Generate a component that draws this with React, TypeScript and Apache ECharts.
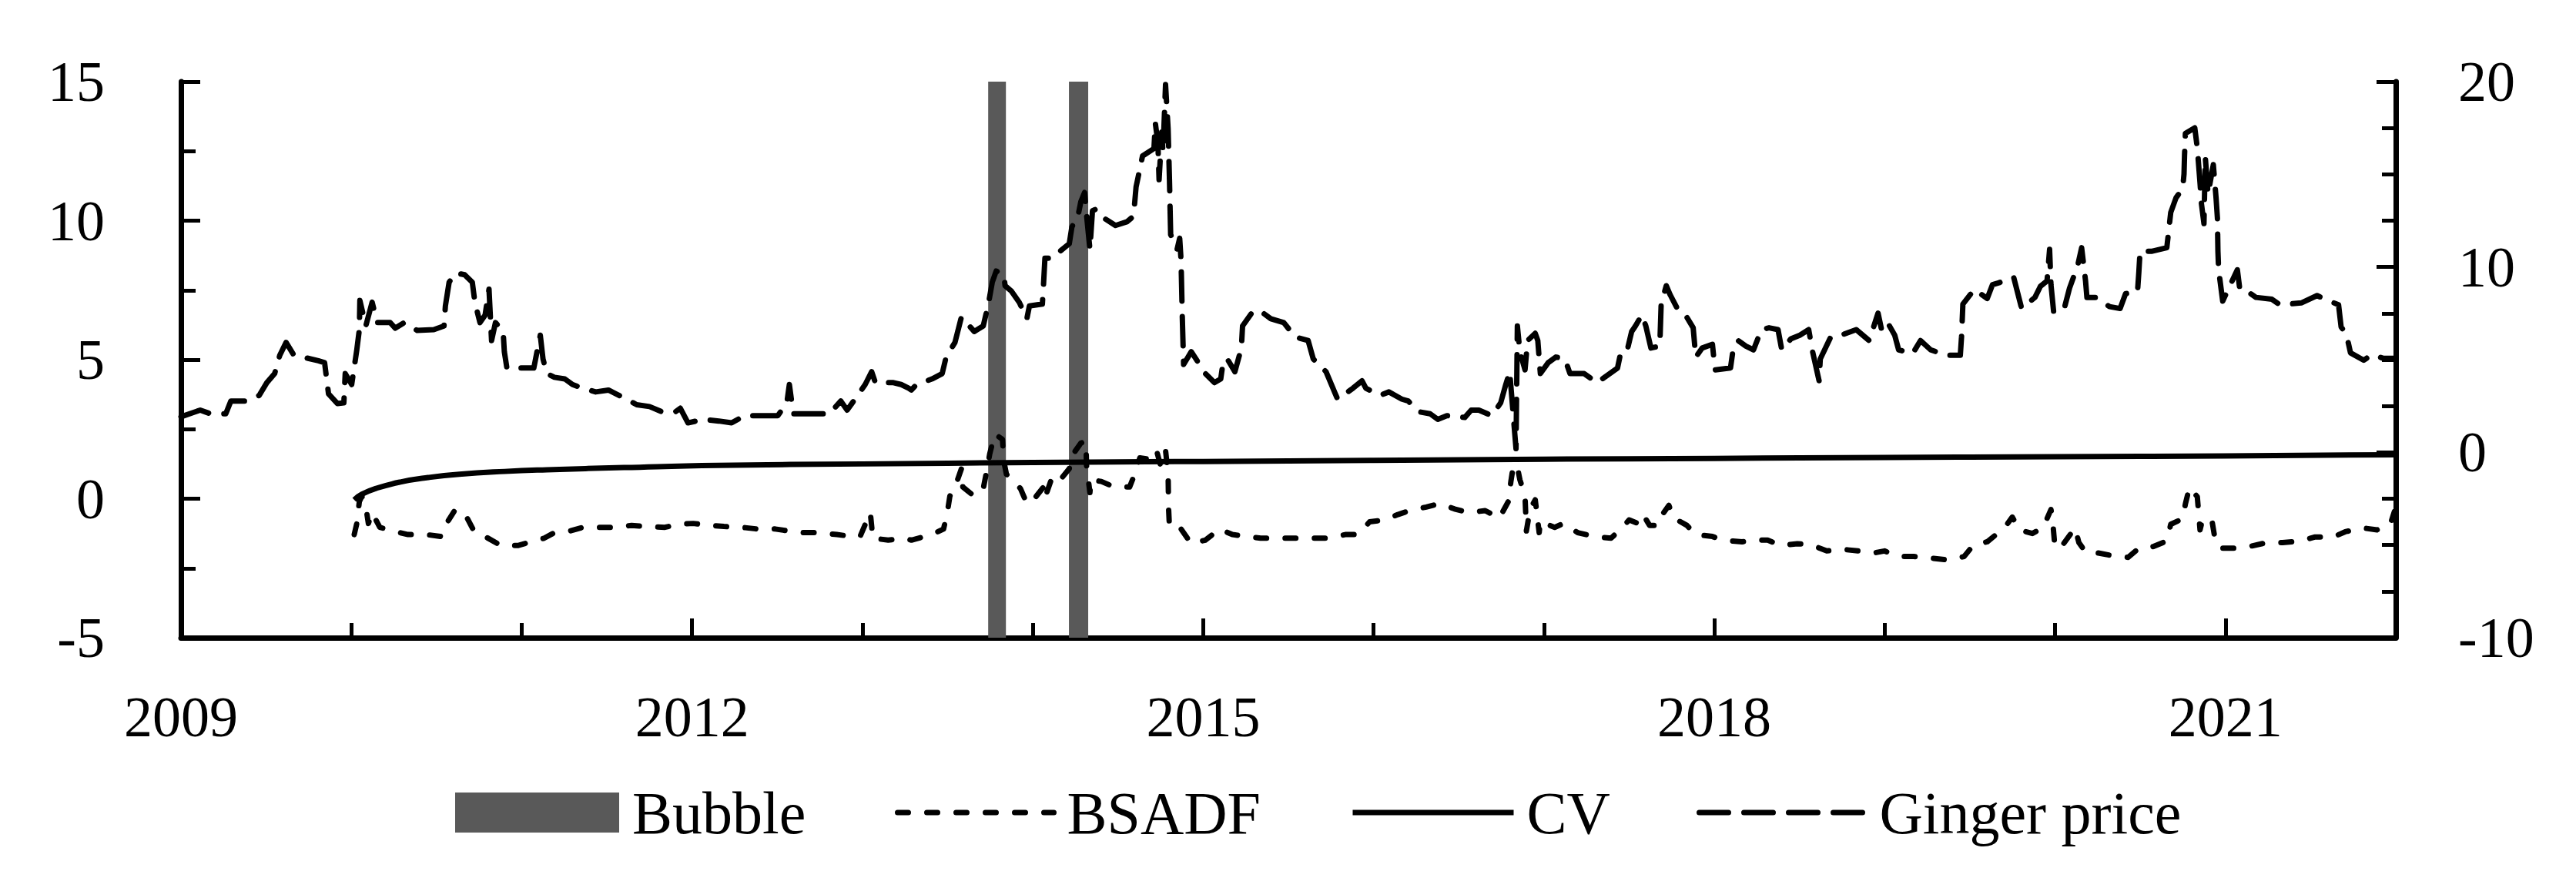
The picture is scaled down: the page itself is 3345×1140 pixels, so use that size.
import React, { useEffect, useRef } from 'react';
import * as echarts from 'echarts';

// Ginger price (right axis)
const gingerYears = [
  2009.0, 2009.113, 2009.173, 2009.263, 2009.293, 2009.384, 2009.459, 2009.504, 2009.55, 2009.58,
  2009.617, 2009.663, 2009.715, 2009.806, 2009.843, 2009.866, 2009.919, 2009.956, 2009.964, 2010.002,
  2010.032, 2010.047, 2010.05, 2010.085, 2010.122, 2010.152, 2010.228, 2010.258, 2010.311, 2010.386,
  2010.484, 2010.544, 2010.552, 2010.574, 2010.612, 2010.665, 2010.71, 2010.725, 2010.755, 2010.785,
  2010.808, 2010.823, 2010.846, 2010.891, 2010.898, 2010.913, 2010.951, 2011.071, 2011.109, 2011.125,
  2011.147, 2011.192, 2011.253, 2011.298, 2011.358, 2011.434, 2011.509, 2011.614, 2011.675, 2011.75,
  2011.825, 2011.901, 2011.931, 2011.976, 2012.066, 2012.157, 2012.232, 2012.308, 2012.503, 2012.556,
  2012.571, 2012.594, 2012.805, 2012.873, 2012.91, 2012.956, 2013.016, 2013.054, 2013.076, 2013.182,
  2013.227, 2013.272, 2013.287, 2013.317, 2013.408, 2013.468, 2013.491, 2013.543, 2013.581, 2013.656,
  2013.709, 2013.739, 2013.762, 2013.785, 2013.83, 2013.837, 2013.875, 2013.92, 2013.965, 2013.98,
  2014.056, 2014.063, 2014.071, 2014.116, 2014.161, 2014.214, 2014.229, 2014.267, 2014.282, 2014.304,
  2014.312, 2014.335, 2014.35, 2014.372, 2014.417, 2014.485, 2014.553, 2014.591, 2014.606, 2014.644,
  2014.711, 2014.719, 2014.734, 2014.741, 2014.757, 2014.764, 2014.779, 2014.794, 2014.802, 2014.809,
  2014.847, 2014.862, 2014.87, 2014.877, 2014.885, 2014.93, 2015.013, 2015.066, 2015.103, 2015.118,
  2015.141, 2015.186, 2015.224, 2015.231, 2015.292, 2015.337, 2015.397, 2015.473, 2015.54, 2015.616,
  2015.646, 2015.721, 2015.766, 2015.789, 2015.834, 2015.879, 2015.932, 2015.955, 2016.038, 2016.09,
  2016.166, 2016.203, 2016.271, 2016.332, 2016.377, 2016.43, 2016.535, 2016.573, 2016.618, 2016.693,
  2016.746, 2016.776, 2016.799, 2016.836, 2016.844, 2016.859, 2016.889, 2016.904, 2016.949, 2016.964,
  2016.979, 2017.025, 2017.07, 2017.123, 2017.153, 2017.236, 2017.311, 2017.356, 2017.432, 2017.454,
  2017.492, 2017.515, 2017.537, 2017.575, 2017.598, 2017.628, 2017.68, 2017.688, 2017.718, 2017.741,
  2017.786, 2017.831, 2017.876, 2017.891, 2017.929, 2017.989, 2018.004, 2018.095, 2018.11, 2018.14,
  2018.185, 2018.23, 2018.276, 2018.321, 2018.374, 2018.396, 2018.449, 2018.502, 2018.554, 2018.577,
  2018.615, 2018.622, 2018.683, 2018.743, 2018.833, 2018.909, 2018.961, 2018.984, 2019.022, 2019.059,
  2019.082, 2019.165, 2019.21, 2019.27, 2019.361, 2019.444, 2019.451, 2019.459, 2019.526, 2019.602,
  2019.633, 2019.671, 2019.757, 2019.804, 2019.882, 2019.914, 2019.953, 2019.968, 2019.976, 2019.992,
  2020.054, 2020.085, 2020.132, 2020.156, 2020.179, 2020.187, 2020.242, 2020.32, 2020.382, 2020.414,
  2020.484, 2020.492, 2020.499, 2020.57, 2020.656, 2020.679, 2020.71, 2020.749, 2020.757, 2020.76,
  2020.765, 2020.82, 2020.835, 2020.851, 2020.859, 2020.874, 2020.882, 2020.898, 2020.929, 2020.945,
  2020.953, 2020.956, 2020.96, 2020.984, 2021.07, 2021.085, 2021.148, 2021.179, 2021.273, 2021.32,
  2021.445, 2021.538, 2021.585, 2021.664, 2021.679, 2021.71, 2021.734, 2021.812, 2021.859, 2021.929,
  2021.999,
];
const gingerPrice = [
  1.92, 2.28, 2.08, 2.08, 2.77, 2.77, 3.07, 3.76, 4.25, 5.24,
  5.93, 5.24, 5.14, 4.94, 4.84, 3.16, 2.63, 2.67, 4.25, 3.66,
  5.53, 6.62, 8.2, 6.82, 8.1, 7.0, 7.0, 6.7, 7.0, 6.58,
  6.62, 6.82, 7.9, 9.18, 9.68, 9.58, 9.18, 8.1, 7.0, 7.4,
  8.8, 6.03, 7.0, 6.52, 5.43, 4.55, 4.55, 4.55, 6.32, 5.04,
  4.25, 4.05, 3.96, 3.66, 3.46, 3.26, 3.36, 2.87, 2.57, 2.47,
  2.18, 2.18, 2.38, 1.59, 1.78, 1.69, 1.59, 1.98, 1.98, 2.67,
  3.66, 2.08, 2.08, 2.77, 2.28, 2.87, 3.66, 4.35, 3.76, 3.76,
  3.66, 3.46, 3.36, 3.66, 3.96, 4.25, 5.14, 5.93, 7.31, 6.52,
  6.82, 8.0, 9.18, 9.78, 9.58, 8.99, 8.69, 8.1, 7.21, 7.9,
  8.0, 9.09, 10.47, 10.47, 10.86, 11.26, 12.15, 12.84, 13.53, 14.02,
  13.13, 10.96, 13.03, 13.13, 12.64, 12.24, 12.44, 12.74, 14.32, 15.99,
  16.39, 17.77, 16.69, 14.71, 17.28, 16.19, 19.84, 17.47, 14.71, 11.75,
  10.96, 11.55, 10.37, 7.41, 4.74, 5.43, 4.25, 3.76, 3.96, 4.94,
  5.04, 4.35, 5.63, 6.82, 7.61, 7.61, 7.21, 7.0, 6.22, 6.03,
  5.04, 4.35, 3.36, 2.87, 3.16, 3.46, 3.86, 3.46, 3.07, 3.26,
  2.87, 2.77, 2.18, 2.08, 1.78, 1.98, 1.88, 2.28, 2.28, 1.98,
  2.67, 3.66, 4.35, 0.2, 6.82, 5.43, 4.45, 6.03, 6.42, 6.03,
  4.25, 4.84, 5.14, 5.04, 4.25, 4.25, 3.76, 4.05, 4.55, 5.53,
  5.63, 6.52, 6.82, 7.41, 6.82, 5.63, 5.73, 8.0, 8.99, 8.5,
  7.7, 7.41, 6.72, 5.14, 5.63, 5.83, 4.45, 4.55, 5.53, 6.03,
  5.73, 5.53, 6.62, 6.72, 6.62, 5.53, 6.12, 6.32, 6.62, 5.43,
  3.86, 5.04, 6.22, 6.32, 6.62, 6.03, 7.51, 6.52, 6.92, 6.32,
  5.53, 5.34, 6.03, 5.53, 5.24, 5.24, 6.22, 8.0, 8.79, 8.3,
  9.05, 9.15, 9.45, 7.76, 8.36, 8.96, 9.25, 10.95, 9.05, 7.56,
  7.76, 8.86, 10.05, 11.04, 9.25, 8.36, 8.36, 7.86, 7.76, 8.56,
  8.66, 9.75, 10.85, 10.85, 11.04, 12.94, 13.73, 14.23, 15.02, 16.02,
  17.21, 17.51, 16.42, 14.53, 13.43, 12.34, 15.92, 13.93, 15.52, 13.73,
  12.64, 10.85, 9.85, 8.16, 9.85, 8.76, 8.56, 8.36, 8.26, 7.96,
  8.06, 8.46, 8.26, 7.96, 6.77, 6.37, 5.37, 4.97, 5.27, 5.07,
  5.07,
];

// BSADF statistic (left axis)
const bsadfYears = [
  2010.017, 2010.032, 2010.047, 2010.062, 2010.092, 2010.1, 2010.122, 2010.167, 2010.243, 2010.333,
  2010.439, 2010.529, 2010.559, 2010.612, 2010.68, 2010.725, 2010.785, 2010.876, 2010.981, 2011.057,
  2011.132, 2011.192, 2011.283, 2011.358, 2011.464, 2011.554, 2011.645, 2011.735, 2011.84, 2011.916,
  2012.006, 2012.097, 2012.187, 2012.293, 2012.383, 2012.488, 2012.564, 2012.654, 2012.745, 2012.85,
  2012.94, 2012.986, 2013.046, 2013.061, 2013.151, 2013.242, 2013.287, 2013.408, 2013.476, 2013.498,
  2013.513, 2013.551, 2013.581, 2013.589, 2013.656, 2013.709, 2013.732, 2013.747, 2013.777, 2013.822,
  2013.83, 2013.845, 2013.89, 2013.928, 2013.965, 2013.996, 2014.063, 2014.071, 2014.116, 2014.161,
  2014.214, 2014.229, 2014.282, 2014.312, 2014.315, 2014.335, 2014.342, 2014.402, 2014.478, 2014.568,
  2014.598, 2014.628, 2014.689, 2014.726, 2014.749, 2014.764, 2014.779, 2014.794, 2014.797, 2014.802,
  2014.87, 2014.93, 2015.013, 2015.096, 2015.171, 2015.262, 2015.337, 2015.435, 2015.533, 2015.638,
  2015.729, 2015.834, 2015.91, 2015.977, 2016.068, 2016.143, 2016.211, 2016.309, 2016.392, 2016.475,
  2016.558, 2016.655, 2016.738, 2016.791, 2016.806, 2016.821, 2016.844, 2016.859, 2016.889, 2016.897,
  2016.919, 2016.949, 2016.972, 2016.979, 2017.063, 2017.115, 2017.198, 2017.296, 2017.394, 2017.462,
  2017.5, 2017.552, 2017.582, 2017.62, 2017.673, 2017.703, 2017.733, 2017.763, 2017.839, 2017.891,
  2017.989, 2018.05, 2018.163, 2018.246, 2018.313, 2018.389, 2018.487, 2018.57, 2018.66, 2018.75,
  2018.848, 2018.939, 2018.999, 2019.082, 2019.172, 2019.278, 2019.376, 2019.466, 2019.519, 2019.602,
  2019.648, 2019.703, 2019.749, 2019.789, 2019.867, 2019.929, 2019.976, 2019.984, 2019.999, 2020.031,
  2020.117, 2020.14, 2020.179, 2020.226, 2020.335, 2020.429, 2020.492, 2020.578, 2020.656, 2020.679,
  2020.749, 2020.765, 2020.789, 2020.835, 2020.851, 2020.867, 2020.921, 2020.937, 2020.968, 2021.062,
  2021.14, 2021.242, 2021.335, 2021.445, 2021.523, 2021.632, 2021.703, 2021.804, 2021.89, 2021.968,
  2021.992,
];
const bsadfValues = [
  -1.29, -0.89, -0.1, 0.09, -0.57, -0.89, -0.5, -1.03, -1.16, -1.29,
  -1.29, -1.36, -0.89, -0.37, -0.7, -1.22, -1.36, -1.68, -1.68, -1.55,
  -1.42, -1.22, -1.16, -1.03, -1.03, -1.03, -0.96, -1.0, -1.03, -0.92,
  -0.89, -0.96, -1.0, -1.03, -1.09, -1.09, -1.16, -1.22, -1.22, -1.29,
  -1.36, -1.36, -0.5, -1.42, -1.49, -1.42, -1.49, -1.29, -1.09, -0.5,
  0.09, 0.55, 1.08, 0.42, 0.09, 0.36, 1.08, 1.61, 2.33, 2.13,
  1.34, 0.88, 0.62, 0.36, -0.17, -0.1, 0.42, 0.03, 0.82, 0.68,
  1.08, 1.54, 2.0, 2.07, 1.21, 0.22, 0.68, 0.62, 0.42, 0.42,
  0.88, 1.47, 1.41, 1.74, 1.21, 1.61, 1.74, 0.88, -0.37, -1.03,
  -1.09, -1.62, -1.49, -1.09, -1.29, -1.36, -1.42, -1.42, -1.42, -1.42,
  -1.42, -1.29, -1.29, -0.83, -0.76, -0.57, -0.43, -0.3, -0.17, -0.37,
  -0.5, -0.43, -0.7, -0.1, 0.62, 1.21, 1.14, 0.68, 0.09, -1.16,
  -0.37, -0.04, -1.22, -0.83, -1.03, -0.89, -1.22, -1.36, -1.42, -1.03,
  -0.76, -0.89, -0.57, -0.96, -0.96, -0.5, -0.24, -0.7, -0.96, -1.29,
  -1.36, -1.49, -1.55, -1.49, -1.49, -1.68, -1.62, -1.66, -1.88, -1.82,
  -1.88, -1.95, -1.88, -2.08, -2.08, -2.14, -2.21, -2.08, -1.68, -1.55,
  -1.32, -1.05, -0.66, -1.12, -1.25, -1.05, -0.39, -0.66, -1.72, -1.78,
  -1.05, -1.58, -1.92, -1.92, -2.05, -2.11, -1.78, -1.72, -1.52, -0.92,
  -0.72, -0.19, 0.41, 0.07, -1.12, -0.72, -0.79, -1.38, -1.78, -1.78,
  -1.72, -1.58, -1.58, -1.52, -1.38, -1.38, -1.19, -1.05, -1.12, -0.92,
  -0.46,
];

// Critical value (left axis)
const cvYears = [
  2010.017, 2010.062, 2010.15, 2010.288, 2010.45, 2010.634, 2010.9, 2011.147, 2011.6, 2012.15,
  2013.0, 2014.0, 2015.0, 2016.0, 2017.0, 2018.0, 2019.0, 2020.0, 2021.0, 2022.0,
];
const cvValues = [
  -0.04, 0.16, 0.38, 0.6, 0.76, 0.88, 0.98, 1.04, 1.12, 1.2,
  1.25, 1.3, 1.34, 1.38, 1.42, 1.45, 1.48, 1.51, 1.54, 1.58,
];

// Bubble periods
const bubbleStart = [2013.738, 2014.212];
const bubbleEnd = [2013.842, 2014.325];

// Axis ranges
const yearMin = 2009;
const yearMax = 2022;
const leftMin = -5;
const leftMax = 15;
const rightMin = -10;
const rightMax = 20;

const FONT = 'Liberation Serif';

export default function App() {
  const ref = useRef<HTMLDivElement>(null);

  useEffect(() => {
    if (!ref.current) return;
    const chart = echarts.init(ref.current, null, { renderer: 'svg' });
    const zip = (xs: number[], ys: number[]) => xs.map((x, i) => [x, ys[i]]);
    const black = '#000';
    const tickStyle = { color: black, width: 5 };
    const axisLineStyle = { color: black, width: 7 };
    const labelStyle = { fontFamily: FONT, fontSize: 74, color: black };

    const legendBase = {
      orient: 'horizontal',
      top: 1016,
      itemHeight: 52,
      selectedMode: false,
      padding: 0,
      textStyle: { fontFamily: FONT, fontSize: 78, color: black, padding: [0, 0, 0, 12] },
      lineStyle: { width: 7 },
    };
    const lineLegend = { ...legendBase, itemStyle: { opacity: 0, borderWidth: 0 } };

    chart.setOption({
      animation: false,
      backgroundColor: '#ffffff',
      grid: {
        left: 235,
        right: 234,
        top: 106,
        bottom: 312,
        containLabel: false,
        outerBoundsMode: 'none',
      },
      xAxis: [
        {
          type: 'value',
          min: yearMin,
          max: yearMax,
          interval: 1,
          position: 'bottom',
          axisLine: { show: true, onZero: false, lineStyle: axisLineStyle },
          axisTick: { show: true, inside: true, length: 19, lineStyle: tickStyle },
          axisLabel: { show: false },
          splitLine: { show: false },
        },
        {
          type: 'value',
          min: yearMin,
          max: yearMax,
          interval: 3,
          position: 'bottom',
          axisLine: { show: false, onZero: false },
          axisTick: { show: true, inside: true, length: 25, lineStyle: tickStyle },
          axisLabel: {
            ...labelStyle,
            margin: 66,
            formatter: (v: number) => ((v - yearMin) % 3 === 0 && v < yearMax ? String(v) : ''),
          },
          splitLine: { show: false },
        },
      ],
      yAxis: [
        {
          type: 'value',
          min: leftMin,
          max: leftMax,
          interval: 5,
          position: 'left',
          axisLine: { show: true, onZero: false, lineStyle: axisLineStyle },
          axisTick: { show: true, inside: true, length: 25, lineStyle: tickStyle },
          minorTick: { show: true, splitNumber: 2, length: 19, lineStyle: tickStyle },
          axisLabel: { ...labelStyle, margin: 99 },
          splitLine: { show: false },
          minorSplitLine: { show: false },
        },
        {
          type: 'value',
          min: rightMin,
          max: rightMax,
          interval: 10,
          position: 'right',
          axisLine: { show: true, onZero: false, lineStyle: axisLineStyle },
          axisTick: { show: true, inside: true, length: 25, lineStyle: tickStyle },
          minorTick: { show: true, splitNumber: 4, length: 18, lineStyle: tickStyle },
          axisLabel: { ...labelStyle, margin: 81 },
          splitLine: { show: false },
          minorSplitLine: { show: false },
        },
      ],
      legend: [
        { ...legendBase, left: 591, itemWidth: 213, data: [{ name: 'Bubble', icon: 'rect' }] },
        { ...lineLegend, left: 1162, itemWidth: 203, data: ['BSADF'] },
        { ...lineLegend, left: 1753, itemWidth: 209, data: ['CV'] },
        { ...lineLegend, left: 2203, itemWidth: 217, data: ['Ginger price'] },
      ],
      series: [
        {
          name: 'Bubble',
          type: 'line',
          data: [],
          symbol: 'none',
          color: '#595959',
          itemStyle: { color: '#595959' },
          lineStyle: { color: '#595959', width: 0 },
          z: 1,
          markArea: {
            silent: true,
            itemStyle: { color: '#595959', borderWidth: 0 },
            data: bubbleStart.map((s, i) => [{ xAxis: s }, { xAxis: bubbleEnd[i] }]),
          },
        },
        {
          name: 'BSADF',
          type: 'line',
          yAxisIndex: 0,
          data: zip(bsadfYears, bsadfValues),
          symbol: 'none',
          color: black,
          z: 3,
          lineStyle: { color: black, width: 7, type: [14, 24], cap: 'round', join: 'round' },
        },
        {
          name: 'CV',
          type: 'line',
          yAxisIndex: 0,
          data: zip(cvYears, cvValues),
          symbol: 'none',
          smooth: true,
          color: black,
          z: 3,
          lineStyle: { color: black, width: 7, type: 'solid', cap: 'butt', join: 'round' },
        },
        {
          name: 'Ginger price',
          type: 'line',
          yAxisIndex: 1,
          data: zip(gingerYears, gingerPrice),
          symbol: 'none',
          color: black,
          z: 3,
          lineStyle: { color: black, width: 7, type: [38, 20], cap: 'round', join: 'round' },
        },
      ],
    });

    return () => chart.dispose();
  }, []);

  return (
    <div
      ref={ref}
      style={{ position: 'fixed', left: 0, top: 0, width: 3345, height: 1140, background: '#fff' }}
    />
  );
}
